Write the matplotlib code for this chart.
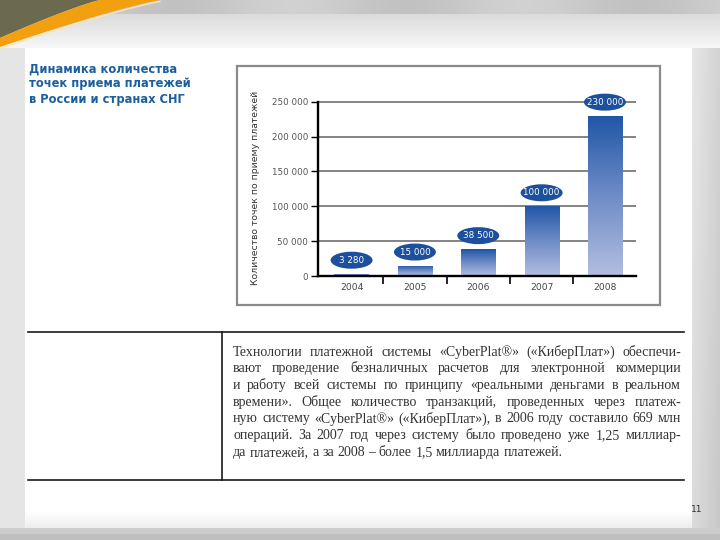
import numpy as np
import matplotlib.pyplot as plt
from matplotlib.patches import Rectangle, Ellipse, Polygon
from matplotlib.colors import LinearSegmentedColormap

# данные
years = ['2004', '2005', '2006', '2007', '2008']
points = [3280, 15000, 38500, 100000, 230000]
point_labels = ['3 280', '15 000', '38 500', '100 000', '230 000']
y_ticks = [0, 50000, 100000, 150000, 200000, 250000]
y_tick_labels = ['0', '50 000', '100 000', '150 000', '200 000', '250 000']
y_title = 'Количество точек по приему платежей'

title_lines = ['Динамика количества',
               'точек приема платежей',
               'в России и странах СНГ']

body_lines = ['Технологии платежной системы «CyberPlat®» («КиберПлат») обеспечи-',
              'вают проведение безналичных расчетов для электронной коммерции',
              'и работу всей системы по принципу «реальными деньгами в реальном',
              'времени». Общее количество транзакций, проведенных через платеж-',
              'ную систему «CyberPlat®» («КиберПлат»), в 2006 году составило 669 млн',
              'операций. За 2007 год через систему было проведено уже 1,25 миллиар-',
              'да платежей, а за 2008 – более 1,5 миллиарда платежей.']

W, H = 720, 540
fig = plt.figure(figsize=(7.2, 5.4), dpi=100)

# фон слайда (в пикселях)
bg = fig.add_axes([0, 0, 1, 1], zorder=0)
bg.set_xlim(0, W)
bg.set_ylim(H, 0)
bg.axis('off')

yy, xx = np.mgrid[0:H, 0:W].astype(float)
g = np.full((H, W), 0.90)
g = np.where(yy < 48, 0.86 + 0.11 * np.clip((yy - 14) / 34, 0, 1), g)
g = np.where(yy < 14, 0.79 + 0.03 * np.sin(xx / 37.0), g)
panel = (xx > 24) & (xx < 692) & (yy >= 48) & (yy < 528)
fade = 1.0 - 0.07 * np.clip((yy - 510) / 18, 0, 1)
g = np.where(panel, fade, g)
g = np.where((xx >= 692) & (yy >= 48), 0.91 - 0.08 * (xx - 692) / 28 - 0.05 * yy / H, g)
g = np.where(yy >= 528, 0.80, g)
g = np.where(yy >= 534, 0.75, g)
bg.imshow(np.dstack([g, g, g]), extent=[0, W, H, 0], aspect='auto', zorder=0)

# уголок с оранжевой дугой
t = np.linspace(0, 1, 40)
up_x, up_y = 100 * t, 38 * (1 - t) ** 1.15
lo_x, lo_y = 160 * t, 47 * (1 - t) ** 1.15
bg.add_patch(Polygon(np.column_stack([np.r_[0, up_x], np.r_[0, up_y]]),
                     closed=True, fc='#6b6a4f', ec='none', zorder=1))
bg.add_patch(Polygon(np.column_stack([np.r_[up_x, lo_x[::-1]], np.r_[up_y, lo_y[::-1]]]),
                     closed=True, fc='#f2a010', ec='none', zorder=1))
bg.plot(lo_x, lo_y + 1.5, color='#f8e6b8', lw=1, zorder=1)

# рамка диаграммы
bg.add_patch(Rectangle((237, 66), 423, 239, fill=False, ec='#8a8a8a', lw=1.6, zorder=2))

# линии таблицы
bg.plot([28, 684], [332, 332], color='#1a1a1a', lw=1.2, zorder=2)
bg.plot([28, 684], [480, 480], color='#1a1a1a', lw=1.2, zorder=2)
bg.plot([222, 222], [332, 480], color='#1a1a1a', lw=1.2, zorder=2)

# заголовок
for i, line in enumerate(title_lines):
    bg.text(29, 69 + i * 15, line, fontsize=8.3, fontweight='bold', color='#1b5f9e',
            family='DejaVu Sans', va='center', ha='left', zorder=3)

# подпись оси Y
bg.text(256, 188, y_title, rotation=90, fontsize=6.7, color='#333333',
        va='center', ha='center', zorder=3)

# номер страницы
bg.text(697, 510, '11', fontsize=6.5, color='#333333', ha='center', va='center', zorder=3)

# основной текст с выравниванием по ширине
renderer = fig.canvas.get_renderer()
x0, x1 = 233, 681
body_font = 'Liberation Serif'
probe = [bg.text(0, 0, ln, fontsize=10, family=body_font) for ln in body_lines]
widest = max(p.get_window_extent(renderer).width for p in probe)
for p in probe:
    p.remove()
fs = 10 * (x1 - x0) / widest * 0.985
for i, line in enumerate(body_lines):
    y = 352 + i * 16.7
    words = line.split(' ')
    txts = [bg.text(0, y, w, fontsize=fs, family=body_font, color='#333333',
                    va='center', ha='left', zorder=3) for w in words]
    widths = [tx.get_window_extent(renderer).width for tx in txts]
    if i == len(body_lines) - 1:
        gap = fs * 100 / 72 * 0.25
    else:
        gap = (x1 - x0 - sum(widths)) / (len(words) - 1)
    x = x0
    for tx, w in zip(txts, widths):
        tx.set_x(x)
        x += w + gap

# диаграмма
top_px, bot_px, left_px, right_px = 101.7, 276, 318, 636
ax = fig.add_axes([left_px / W, (H - bot_px) / H, (right_px - left_px) / W, (bot_px - top_px) / H],
                  zorder=2)
ax.patch.set_alpha(0)
xpos = np.arange(len(years))

ax.hlines(y_ticks[1:], -0.53, 4.49, color='#7a7a7a', lw=1.3, zorder=1, clip_on=False)

bars = ax.bar(xpos, points, width=0.54, color='none', zorder=2)
cmap = LinearSegmentedColormap.from_list('bl', ['#b2bee0', '#6f8cc7', '#1f56a7'])
grad = np.linspace(0, 1, 256).reshape(-1, 1)
for b in bars:
    bx, by = b.get_x(), b.get_y()
    im = ax.imshow(grad, cmap=cmap, origin='lower', aspect='auto', zorder=2,
                   extent=[bx, bx + b.get_width(), by, by + b.get_height()])
    im.set_clip_path(b)
ax.set_xlim(-0.53, 4.49)
ax.set_ylim(0, 250000)

# подписи-эллипсы
ppx_x = (right_px - left_px) / (4.49 + 0.53)
ppx_y = (bot_px - top_px) / 250000
for xi, v, lab in zip(xpos, points, point_labels):
    cy = v + 13.5 / ppx_y
    ax.add_patch(Ellipse((xi, cy), 42 / ppx_x, 17 / ppx_y, fc='#1c4f9c', ec='none',
                         zorder=4, clip_on=False))
    ax.text(xi, cy, lab, color='white', fontsize=6.3, ha='center', va='center',
            zorder=5, clip_on=False)

for s in ['top', 'right']:
    ax.spines[s].set_visible(False)
ax.spines['left'].set_linewidth(1.7)
ax.spines['bottom'].set_linewidth(1.7)
ax.spines['left'].set_zorder(6)
ax.spines['bottom'].set_zorder(6)

ax.set_yticks(y_ticks, y_tick_labels)
ax.tick_params(axis='y', length=5, width=1, color='black', labelsize=6.3,
               labelcolor='#555555', pad=2)
ax.set_xticks([0.5, 1.5, 2.5, 3.5])
ax.set_xticklabels([])
ax.set_xticks(xpos, years, minor=True)
ax.tick_params(axis='x', which='major', length=6, width=1.2, color='black')
ax.tick_params(axis='x', which='minor', length=0, labelsize=6.6, labelcolor='#444444', pad=5)

fig.savefig('out.png', dpi=100)
